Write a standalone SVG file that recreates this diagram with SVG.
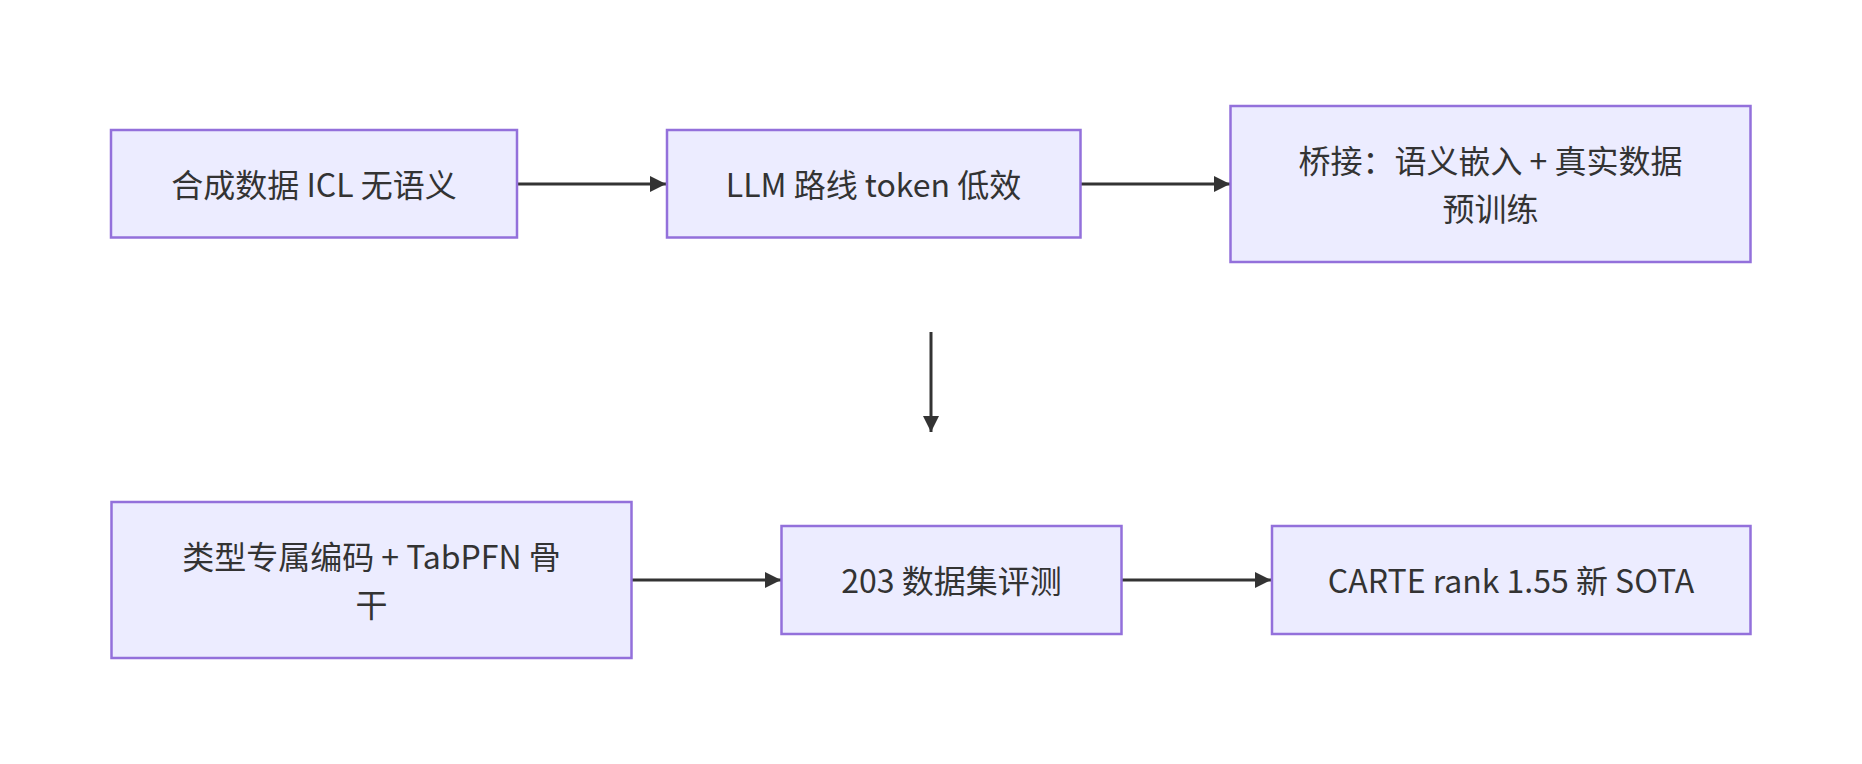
<svg xmlns="http://www.w3.org/2000/svg" width="1862" height="764" viewBox="0 0 1862 764">
<style>
.node rect{fill:#ECECFF;stroke:#9370DB;stroke-width:2.5}
.node text{font-family:"Noto Sans CJK SC","Noto Sans",sans-serif;font-size:32px;fill:#333333;text-anchor:middle;dominant-baseline:central}
.edge{stroke:#333333;stroke-width:3;fill:none}
</style>
<defs>
<marker id="arrow" viewBox="0 0 10 10" refX="10" refY="5" markerWidth="16" markerHeight="16" markerUnits="userSpaceOnUse" orient="auto">
<path d="M0,0 L10,5 L0,10 z" fill="#333333"/>
</marker>
</defs>
<rect width="1862" height="764" fill="#ffffff"/>
<g id="connectors">
<line class="edge" x1="518" y1="184" x2="666" y2="184" marker-end="url(#arrow)"/>
<line class="edge" x1="1081" y1="184" x2="1230" y2="184" marker-end="url(#arrow)"/>
<line class="edge" x1="931" y1="332" x2="931" y2="432" marker-end="url(#arrow)"/>
<line class="edge" x1="632" y1="580" x2="781" y2="580" marker-end="url(#arrow)"/>
<line class="edge" x1="1122" y1="580" x2="1271" y2="580" marker-end="url(#arrow)"/>
</g>
<g id="n1" class="node"><rect x="111" y="130" width="406" height="107.5"/><text x="314" y="183">合成数据 ICL 无语义</text></g>
<g id="n2" class="node"><rect x="667" y="130" width="413.5" height="107.5"/><text x="873.5" y="183">LLM 路线 token 低效</text></g>
<g id="n3" class="node"><rect x="1230.5" y="106" width="520" height="156"/><text x="1490.5" y="159">桥接：语义嵌入 + 真实数据</text><text x="1490.5" y="207">预训练</text></g>
<g id="n4" class="node"><rect x="111.5" y="502" width="520" height="156"/><text x="371.5" y="555">类型专属编码 + TabPFN 骨</text><text x="371.5" y="603">干</text></g>
<g id="n5" class="node"><rect x="781.5" y="526" width="340" height="108"/><text x="951.5" y="579">203 数据集评测</text></g>
<g id="n6" class="node"><rect x="1272" y="526" width="478.5" height="108"/><text x="1511" y="579">CARTE rank 1.55 新 SOTA</text></g>
</svg>
